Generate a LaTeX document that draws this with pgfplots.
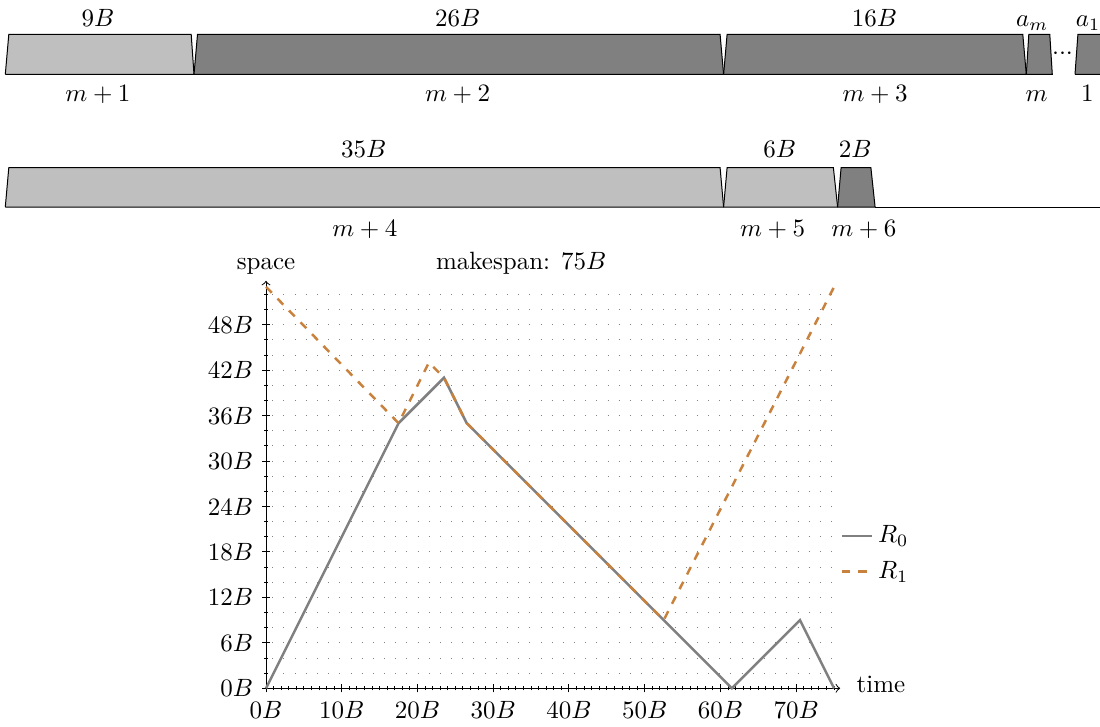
\documentclass[border=0pt]{standalone}
\usepackage{pgfplots}
\pgfplotsset{compat=1.18}
\definecolor{lightbar}{RGB}{191,191,191}
\definecolor{darkbar}{RGB}{128,128,128}
\definecolor{rzero}{RGB}{128,128,128}
\definecolor{rone}{RGB}{200,130,62}
\begin{document}
\begin{tikzpicture}
% ---- schedule rows (coordinates in reference pixels, y downwards) ----
\begin{axis}[at={(0pt,0pt)}, anchor=south west, x=0.4pt, y=0.4pt, y dir=reverse,
  xmin=0, xmax=1100, ymin=0, ymax=726, axis lines=none, clip=true]
% row 1
\addplot[fill=lightbar, draw=black, line width=0.4pt] coordinates {(5.3,74.4) (8.8,34.4) (191.2,34.4) (194.0,74.4) (5.3,74.4)};
\addplot[fill=darkbar, draw=black, line width=0.4pt] coordinates {(194.0,74.4) (197.5,34.4) (720.1,34.4) (723.6,74.4) (194.0,74.4)};
\addplot[fill=darkbar, draw=black, line width=0.4pt] coordinates {(723.6,74.4) (727.1,34.4) (1022.8,34.4) (1026.3,74.4) (723.6,74.4)};
\addplot[fill=darkbar, draw=black, line width=0.4pt] coordinates {(1026.3,74.4) (1028.8,34.4) (1049.8,34.4) (1052.3,74.4) (1026.3,74.4)};
\addplot[fill=darkbar, draw=black, line width=0.4pt] coordinates {(1075.0,74.4) (1077.9,34.4) (1120,34.4) (1120,74.4) (1075.0,74.4)};
% row 2
\addplot[fill=lightbar, draw=black, line width=0.4pt] coordinates {(5.3,207) (8.8,167.7) (720.1,167.7) (723.6,207) (5.3,207)};
\addplot[fill=lightbar, draw=black, line width=0.4pt] coordinates {(723.6,207) (727.1,167.7) (833.4,167.7) (837.6,207) (723.6,207)};
\addplot[fill=darkbar, draw=black, line width=0.4pt] coordinates {(837.6,207) (841.1,167.7) (870.9,167.7) (875.1,207) (837.6,207)};
\addplot[draw=black, line width=0.4pt] coordinates {(875.1,207) (1120,207)};
% labels row 1
\node[anchor=base] at (axis cs:98,26.3) {$9B$};
\node[anchor=base] at (axis cs:457.7,26.3) {$26B$};
\node[anchor=base] at (axis cs:874.4,26.3) {$16B$};
\node[anchor=base] at (axis cs:1032.3,26.3) {$a_m$};
\node[anchor=base] at (axis cs:1088,26.3) {$a_1$};
\node at (axis cs:1062.5,54.4) {${\cdot}{\cdot}{\cdot}$};
\node[anchor=base] at (axis cs:98,101.7) {$m+1$};
\node[anchor=base] at (axis cs:457.7,101.7) {$m+2$};
\node[anchor=base] at (axis cs:875.2,101.7) {$m+3$};
\node[anchor=base] at (axis cs:1036.5,101.7) {$m$};
\node[anchor=base] at (axis cs:1087.3,101.7) {$1$};
% labels row 2
\node[anchor=base] at (axis cs:363.7,157.9) {$35B$};
\node[anchor=base] at (axis cs:779.7,157.9) {$6B$};
\node[anchor=base] at (axis cs:855.2,157.9) {$2B$};
\node[anchor=base] at (axis cs:364.8,236.4) {$m+4$};
\node[anchor=base] at (axis cs:772.7,236.4) {$m+5$};
\node[anchor=base] at (axis cs:863.9,236.4) {$m+6$};
\end{axis}
% ---- space over time ----
\begin{axis}[
  at={(106.4pt,15.08pt)}, anchor=south west,
  x=3.03pt, y=3.03pt,
  xmin=0, xmax=75.8, ymin=0, ymax=53.8,
  axis lines=left,
  axis line style={-to, line width=0.4pt},
  xtick={0,10,...,70}, ytick={0,6,...,48},
  minor xtick={0,1,...,75}, minor ytick={0,2,...,52},
  yminorgrids=true,
  minor grid style={draw=gray, line width=0.4pt, dash pattern=on 0.4pt off 4.07pt, dash phase=1.95pt},
  tick align=center,
  major tick length=3.2pt, minor tick length=1.6pt,
  tick style={black, line width=0.4pt},
  xticklabel={$\pgfmathprintnumber{\tick}B$},
  yticklabel={$\pgfmathprintnumber{\tick}B$},
  clip=false,
  legend style={draw=none, fill=none, at={(1.0,0.33)}, anchor=west, inner sep=0pt, row sep=2pt},
  legend cell align=left,
  legend image code/.code={\draw[#1] (0pt,0pt) -- (12pt,0pt);},
]
\addplot[rzero, line width=1pt] coordinates {(0,0) (17.5,35) (23.5,41) (26.5,35) (52.5,9) (61.5,0) (70.5,9) (75,0)};
\addlegendentry{$R_0$}
\addplot[rone, line width=1pt, dash pattern=on 3.3pt off 3.3pt] coordinates {(0,53) (17.5,35) (21.5,43) (23.5,41) (26.5,35) (52.5,9) (75,53)};
\addlegendentry{$R_1$}
\node[anchor=base] at (axis cs:0,55.35) {space};
\node[anchor=base] at (axis cs:33.7,55.35) {makespan: $75B$};
\node[anchor=base west] at (axis cs:76.8,-0.6) {time};
\end{axis}
\pgfresetboundingbox
\path (0pt,0pt) rectangle (440pt,290.4pt);
\end{tikzpicture}
\end{document}
